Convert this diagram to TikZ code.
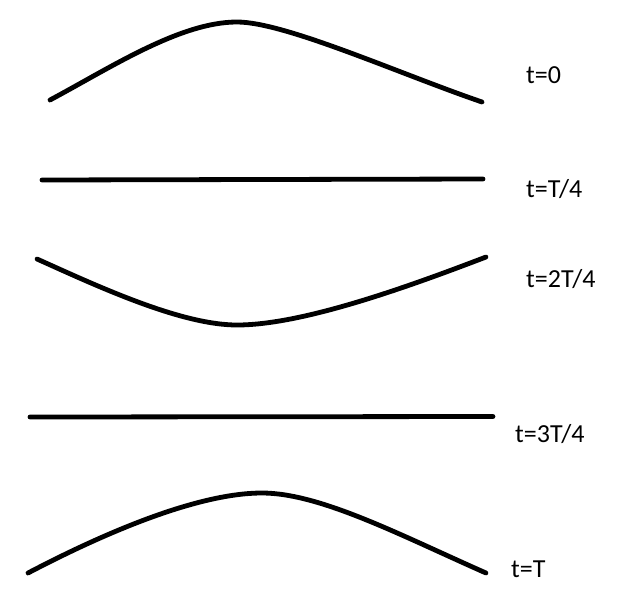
\documentclass[tikz,border=0pt]{standalone}
\usepackage{fontspec}
\setmainfont{Carlito}
\begin{document}
\begin{tikzpicture}[x=1pt,y=-1pt,
  wave/.style={line width=4.8pt,line cap=round,black},
  lbl/.style={anchor=base west,inner sep=0pt,font=\fontsize{26}{30}\selectfont}]
\useasboundingbox (0,0) rectangle (629,614);
% t=0
\draw[wave] (50,100) .. controls (110,68) and (180,22) .. (237,22)
  .. controls (285,22) and (400,74) .. (482,102);
% t=T/4
\draw[wave] (42,180) -- (483,179);
% t=2T/4
\draw[wave] (37,259) .. controls (95,285) and (180,325) .. (237,325)
  .. controls (300,325) and (400,290) .. (486,257);
% t=3T/4
\draw[wave] (30,417) -- (493,416.5);
% t=T
\draw[wave] (28,573) .. controls (110,530) and (200,493) .. (262,493)
  .. controls (320,493) and (400,535) .. (486,573);
\node[lbl] (l0) at (526,83) {t=0};
\node[lbl] (l1) at (526,197) {t=T/4};
\node[lbl] (l2) at (526,287) {t=2T/4};
\node[lbl] (l3) at (515,442) {t=3T/4};
\node[lbl] (l4) at (511,577) {t=T};
\end{tikzpicture}
\end{document}
